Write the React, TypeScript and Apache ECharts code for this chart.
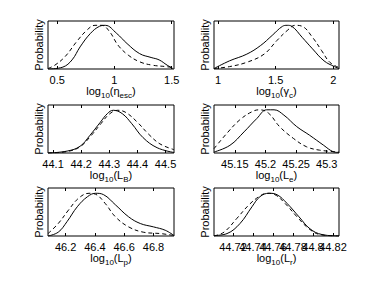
import React, { useEffect, useRef } from "react";
import * as echarts from "echarts";

// Panel 1: log10(eta_esc)
const p1Range = [0.42, 1.52];
const p1Ticks = [0.5, 1, 1.5];
const p1SolidX = [0.42, 0.55, 0.63, 0.7, 0.79, 0.87, 0.92, 1.02, 1.11, 1.22, 1.32, 1.39, 1.46, 1.51];
const p1SolidY = [0.0, 0.04, 0.19, 0.46, 0.74, 0.89, 0.91, 0.74, 0.53, 0.32, 0.24, 0.19, 0.08, 0.01];
const p1DashX = [0.42, 0.48, 0.57, 0.67, 0.76, 0.83, 0.89, 0.96, 1.03, 1.12, 1.22, 1.33, 1.45, 1.51];
const p1DashY = [0.01, 0.08, 0.26, 0.57, 0.81, 0.91, 0.91, 0.77, 0.5, 0.29, 0.15, 0.08, 0.05, 0.03];

// Panel 2: log10(gamma_c)
const p2Range = [0.965, 2.05];
const p2Ticks = [1, 1.5, 2];
const p2SolidX = [0.965, 1.1, 1.25, 1.37, 1.47, 1.56, 1.6, 1.64, 1.73, 1.82, 1.92, 2.01, 2.05];
const p2SolidY = [0.01, 0.17, 0.31, 0.49, 0.7, 0.89, 0.91, 0.89, 0.66, 0.42, 0.17, 0.05, 0.01];
const p2DashX = [0.965, 1.1, 1.25, 1.4, 1.51, 1.6, 1.67, 1.73, 1.82, 1.9, 1.97, 2.05];
const p2DashY = [0.01, 0.05, 0.14, 0.31, 0.59, 0.8, 0.91, 0.89, 0.66, 0.38, 0.14, 0.03];

// Panel 3: log10(L_B)
const p3Range = [44.082, 44.53];
const p3Ticks = [44.1, 44.2, 44.3, 44.4, 44.5];
const p3SolidX = [44.082, 44.15, 44.196, 44.23, 44.268, 44.293, 44.314, 44.346, 44.38, 44.42, 44.47, 44.53];
const p3SolidY = [0.0, 0.04, 0.14, 0.36, 0.64, 0.82, 0.89, 0.82, 0.61, 0.32, 0.11, 0.01];
const p3DashX = [44.082, 44.15, 44.196, 44.235, 44.27, 44.3, 44.33, 44.36, 44.4, 44.44, 44.48, 44.53];
const p3DashY = [0.0, 0.03, 0.13, 0.36, 0.61, 0.81, 0.89, 0.84, 0.64, 0.39, 0.19, 0.07];

// Panel 4: log10(L_e)
const p4Range = [45.116, 45.32];
const p4Ticks = [45.15, 45.2, 45.25, 45.3];
const p4SolidX = [45.116, 45.142, 45.165, 45.186, 45.202, 45.214, 45.23, 45.251, 45.272, 45.295, 45.31, 45.32];
const p4SolidY = [0.02, 0.16, 0.44, 0.72, 0.9, 0.9, 0.79, 0.55, 0.37, 0.16, 0.03, 0.01];
const p4DashX = [45.116, 45.137, 45.158, 45.178, 45.19, 45.205, 45.223, 45.246, 45.267, 45.288, 45.32];
const p4DashY = [0.09, 0.41, 0.69, 0.86, 0.9, 0.83, 0.55, 0.3, 0.13, 0.06, 0.02];

// Panel 5: log10(L_p)
const p5Range = [46.08, 46.94];
const p5Ticks = [46.2, 46.4, 46.6, 46.8];
const p5SolidX = [46.08, 46.15, 46.21, 46.28, 46.35, 46.405, 46.46, 46.54, 46.63, 46.71, 46.8, 46.88, 46.94];
const p5SolidY = [0.0, 0.08, 0.3, 0.61, 0.82, 0.89, 0.86, 0.65, 0.4, 0.26, 0.19, 0.12, 0.01];
const p5DashX = [46.08, 46.15, 46.22, 46.29, 46.36, 46.405, 46.47, 46.54, 46.63, 46.73, 46.85, 46.94];
const p5DashY = [0.05, 0.26, 0.54, 0.79, 0.89, 0.87, 0.68, 0.4, 0.19, 0.08, 0.05, 0.01];

// Panel 6: log10(L_r)
const p6Range = [44.701, 44.826];
const p6Ticks = [44.72, 44.74, 44.76, 44.78, 44.8, 44.82];
const p6SolidX = [44.701, 44.714, 44.727, 44.739, 44.747, 44.756, 44.764, 44.774, 44.786, 44.797, 44.809, 44.826];
const p6SolidY = [0.01, 0.05, 0.26, 0.61, 0.82, 0.89, 0.86, 0.68, 0.4, 0.15, 0.03, 0.0];
const p6DashX = [44.701, 44.711, 44.724, 44.736, 44.746, 44.754, 44.762, 44.772, 44.784, 44.796, 44.807, 44.826];
const p6DashY = [0.0, 0.08, 0.37, 0.65, 0.82, 0.89, 0.86, 0.68, 0.4, 0.15, 0.03, 0.0];

const titles = [
  "log{s|10}(η{s|esc})",
  "log{s|10}(γ{s|c})",
  "log{s|10}(L{s|B})",
  "log{s|10}(L{s|e})",
  "log{s|10}(L{s|p})",
  "log{s|10}(L{s|r})",
];

const panels = [
  { range: p1Range, ticks: p1Ticks, sx: p1SolidX, sy: p1SolidY, dx: p1DashX, dy: p1DashY },
  { range: p2Range, ticks: p2Ticks, sx: p2SolidX, sy: p2SolidY, dx: p2DashX, dy: p2DashY },
  { range: p3Range, ticks: p3Ticks, sx: p3SolidX, sy: p3SolidY, dx: p3DashX, dy: p3DashY },
  { range: p4Range, ticks: p4Ticks, sx: p4SolidX, sy: p4SolidY, dx: p4DashX, dy: p4DashY },
  { range: p5Range, ticks: p5Ticks, sx: p5SolidX, sy: p5SolidY, dx: p5DashX, dy: p5DashY },
  { range: p6Range, ticks: p6Ticks, sx: p6SolidX, sy: p6SolidY, dx: p6DashX, dy: p6DashY },
];

const FONT = "Liberation Sans, Arial, Helvetica, sans-serif";

export default function App() {
  const ref = useRef<HTMLDivElement>(null);
  useEffect(() => {
    if (!ref.current) return;
    const chart = echarts.init(ref.current, undefined, { renderer: "svg" });
    const lefts = [48, 214];
    const widths = [126, 125];
    const tops = [21, 105, 188];
    const grid: any[] = [];
    const xAxis: any[] = [];
    const yAxis: any[] = [];
    const series: any[] = [];
    const labelStyle = {
      show: true,
      interval: 0,
      margin: 5,
      color: "#000",
      fontSize: 11,
      fontFamily: FONT,
      showMinLabel: true,
      showMaxLabel: true,
      hideOverlap: false,
    };
    panels.forEach((p, i) => {
      const col = i % 2;
      const row = Math.floor(i / 2);
      const evenTicks = p.ticks.filter((_, k) => k % 2 === 0);
      const oddTicks = p.ticks.filter((_, k) => k % 2 === 1);
      grid.push({
        left: lefts[col],
        top: tops[row],
        width: widths[col],
        height: 48,
        show: true,
        borderColor: "#000",
        borderWidth: 1,
        backgroundColor: "#fff",
      });
      xAxis.push({
        type: "value",
        gridIndex: i,
        min: p.range[0],
        max: p.range[1],
        position: "bottom",
        axisLine: { show: false },
        splitLine: { show: false },
        axisTick: { show: true, inside: true, length: 3, customValues: p.ticks, lineStyle: { color: "#000" } },
        axisLabel: { ...labelStyle, customValues: evenTicks },
        name: titles[i],
        nameLocation: "middle",
        nameGap: 13,
        nameMoveOverlap: false,
        nameTextStyle: {
          color: "#000",
          fontSize: 11,
          fontFamily: FONT,
          verticalAlign: "top",
          rich: { s: { fontSize: 8, fontFamily: FONT, color: "#000", padding: [9, 0, 0, 0] } },
        },
      });
      xAxis.push({
        type: "value",
        gridIndex: i,
        min: p.range[0],
        max: p.range[1],
        position: "bottom",
        offset: 0,
        axisLine: { show: false },
        splitLine: { show: false },
        axisTick: { show: false },
        axisLabel: { ...labelStyle, show: oddTicks.length > 0, customValues: oddTicks },
      });
      xAxis.push({
        type: "value",
        gridIndex: i,
        min: p.range[0],
        max: p.range[1],
        position: "top",
        axisLine: { show: false },
        splitLine: { show: false },
        axisTick: { show: true, inside: true, length: 3, customValues: p.ticks, lineStyle: { color: "#000" } },
        axisLabel: { show: false },
      });
      yAxis.push({
        type: "value",
        gridIndex: i,
        min: 0,
        max: 1,
        axisLine: { show: false },
        axisTick: { show: false },
        axisLabel: { show: false },
        splitLine: { show: false },
        name: "Probability",
        nameLocation: "middle",
        nameRotate: 90,
        nameGap: 4,
        nameMoveOverlap: false,
        nameTextStyle: { color: "#000", fontSize: 11, fontFamily: FONT },
      });
      series.push({
        type: "line",
        xAxisIndex: 3 * i,
        yAxisIndex: i,
        smooth: 0.4,
        showSymbol: false,
        data: p.sx.map((x, k) => [x, p.sy[k]]),
        lineStyle: { color: "#000", width: 1 },
      });
      series.push({
        type: "line",
        xAxisIndex: 3 * i,
        yAxisIndex: i,
        smooth: 0.4,
        showSymbol: false,
        data: p.dx.map((x, k) => [x, p.dy[k]]),
        lineStyle: { color: "#000", width: 1, type: [4, 3] },
      });
    });
    chart.setOption({
      animation: false,
      backgroundColor: "#fff",
      grid,
      xAxis,
      yAxis,
      series,
    });
    return () => chart.dispose();
  }, []);
  return (
    <div
      ref={ref}
      style={{ position: "fixed", left: 0, top: 0, width: 374, height: 281, background: "#fff" }}
    />
  );
}
